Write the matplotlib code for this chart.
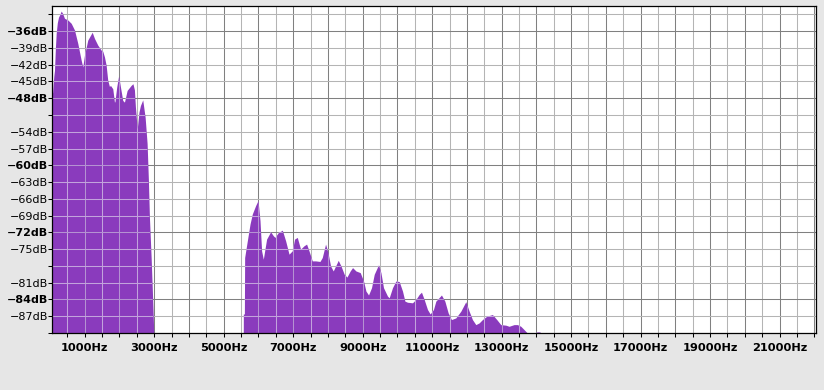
import matplotlib
matplotlib.use("Agg")
import matplotlib.pyplot as plt
from matplotlib.path import Path

# ---------------- data ----------------
low_freq = [57, 63, 75, 90, 110, 129, 155, 178, 210, 244, 285, 322, 360, 417,
            512, 610, 705, 800, 897, 943, 992, 1087, 1214, 1280, 1375, 1472,
            1518, 1567, 1616, 1662, 1711, 1740, 1806, 1855, 1869, 1920, 1975,
            2028, 2094, 2143, 2220, 2335, 2387, 2430, 2459, 2511, 2560, 2603,
            2669, 2738, 2795, 2833, 2862, 2911, 2957, 2985, 2990]
low_db = [-47.5, -47.1, -47.0, -45.5, -44.0, -43.0, -39.0, -36.4, -34.5, -33.5,
          -33.0, -32.4, -32.8, -33.7, -34.0, -34.6, -35.8, -38.2, -41.2, -42.4,
          -40.3, -37.6, -36.2, -37.3, -38.5, -39.4, -39.6, -40.6, -42.1, -44.8,
          -45.9, -45.7, -46.3, -48.7, -48.6, -46.0, -44.0, -46.0, -48.4, -48.7,
          -46.6, -45.7, -45.4, -46.5, -49.6, -53.5, -50.5, -49.3, -48.3, -51.4,
          -56.1, -62.8, -69.3, -76.5, -84.3, -89.7, -100.0]

high_freq = [5560, 5565, 5595, 5603, 5680, 5758, 5824, 5919, 5988, 6045, 6091,
             6140, 6235, 6350, 6428, 6477, 6563, 6687, 6782, 6880, 6974, 7040,
             7118, 7213, 7311, 7386, 7455, 7550, 7645, 7771, 7837, 7932, 8001,
             8076, 8153, 8268, 8297, 8375, 8470, 8547, 8642, 8709, 8806, 8930,
             9025, 9094, 9169, 9255, 9333, 9456, 9525, 9600, 9715, 9764, 9859,
             9957, 10052, 10147, 10216, 10291, 10434, 10532, 10627, 10693, 10771,
             10866, 10943, 11038, 11107, 11153, 11268, 11366, 11461, 11556,
             11682, 11826, 11970, 12065, 12160, 12257, 12352, 12447, 12574,
             12735, 12861, 12976, 13120, 13215, 13359, 13454, 13552, 13647,
             13741, 13790, 13800, 14000, 14010, 14029, 14107, 14115]
high_db = [-100.0, -86.6, -86.6, -76.5, -73.5, -70.5, -68.7, -67.2, -66.3, -69.9,
           -75.3, -76.8, -73.2, -71.9, -72.6, -72.9, -72.1, -71.6, -73.5, -75.9,
           -75.3, -73.2, -72.9, -75.0, -74.4, -74.1, -75.3, -77.1, -77.1, -77.2,
           -76.5, -74.1, -75.6, -78.0, -78.9, -77.4, -77.0, -78.0, -79.5, -80.0,
           -78.9, -78.3, -78.9, -79.2, -80.7, -82.5, -83.2, -81.9, -79.5, -77.8,
           -79.2, -81.9, -83.4, -83.7, -81.9, -80.7, -80.8, -82.5, -84.3, -84.5,
           -84.6, -84.0, -83.1, -82.7, -84.0, -85.8, -86.6, -85.8, -84.3, -84.0,
           -83.2, -84.3, -86.4, -87.6, -87.3, -86.1, -84.4, -86.1, -87.6, -88.5,
           -88.2, -87.6, -87.0, -86.7, -87.6, -88.5, -88.6, -88.8, -88.5, -88.5,
           -88.8, -89.4, -90.0, -90.4, -100.0, -100.0, -89.8, -89.8, -89.8,
           -100.0]

x_ticks = list(range(500, 22001, 500))
x_tick_labels = [f"{f}Hz" if f % 2000 == 1000 else "" for f in x_ticks]
y_ticks = list(range(-90, -32, 3))
y_unlabeled = [-90, -78, -51, -33]
y_bold = [-36, -48, -60, -72, -84]
y_tick_labels = ["" if v in y_unlabeled else f"\u2212{abs(v)}dB" for v in y_ticks]

# ---------------- style ----------------
PURPLE = "#8a3bbd"
BG = "#e6e6e6"
GRID_MAJOR = "#808080"
GRID_MINOR = "#b4b4b4"
OVER_MAJOR = "#b592d2"
OVER_MINOR = "#c2a3dc"
FLOOR = -100.0

fig = plt.figure(figsize=(8.24, 3.9), dpi=100, facecolor=BG)
ax = fig.add_axes([52 / 824, 57 / 390, (816 - 52) / 824, (384 - 57) / 390])
ax.set_facecolor("white")
ax.set_xlim(57, 22050)
ax.set_ylim(-90, -31.5)

fills = []
for fr, db in ((low_freq, low_db), (high_freq, high_db)):
    fills.append(ax.fill_between(fr, db, FLOOR, color=PURPLE, lw=0, zorder=2))

clip = Path.make_compound_path(*[p for c in fills for p in c.get_paths()])

LW = 0.75
for f in x_ticks:
    major = f % 1000 == 0
    ax.axvline(f, color=GRID_MAJOR if major else GRID_MINOR, lw=LW, zorder=1)
    ln = ax.axvline(f, color=OVER_MAJOR if major else OVER_MINOR, lw=LW, zorder=3)
    ln.set_clip_path(clip, ax.transData)
for v in y_ticks:
    major = v in y_bold
    ax.axhline(v, color=GRID_MAJOR if major else GRID_MINOR, lw=LW, zorder=1)
    ln = ax.axhline(v, color=OVER_MAJOR if major else OVER_MINOR, lw=LW, zorder=3)
    ln.set_clip_path(clip, ax.transData)

ax.set_xticks(x_ticks)
ax.set_xticklabels(x_tick_labels, fontsize=8.2, fontweight="bold",
                   family="DejaVu Sans")
ax.set_yticks(y_ticks)
ax.set_yticklabels(y_tick_labels, fontsize=8, family="DejaVu Sans")
for lbl, v in zip(ax.get_yticklabels(), y_ticks):
    if v in y_bold:
        lbl.set_fontweight("bold")

ax.tick_params(axis="x", direction="out", length=3, width=0.75, pad=4.5,
               colors="black")
ax.tick_params(axis="y", direction="out", length=3, width=0.75, pad=0,
               colors="black")
for s in ax.spines.values():
    s.set_color("black")
    s.set_linewidth(0.9)
    s.set_zorder(5)

fig.savefig("out.png", dpi=100, facecolor=BG)
